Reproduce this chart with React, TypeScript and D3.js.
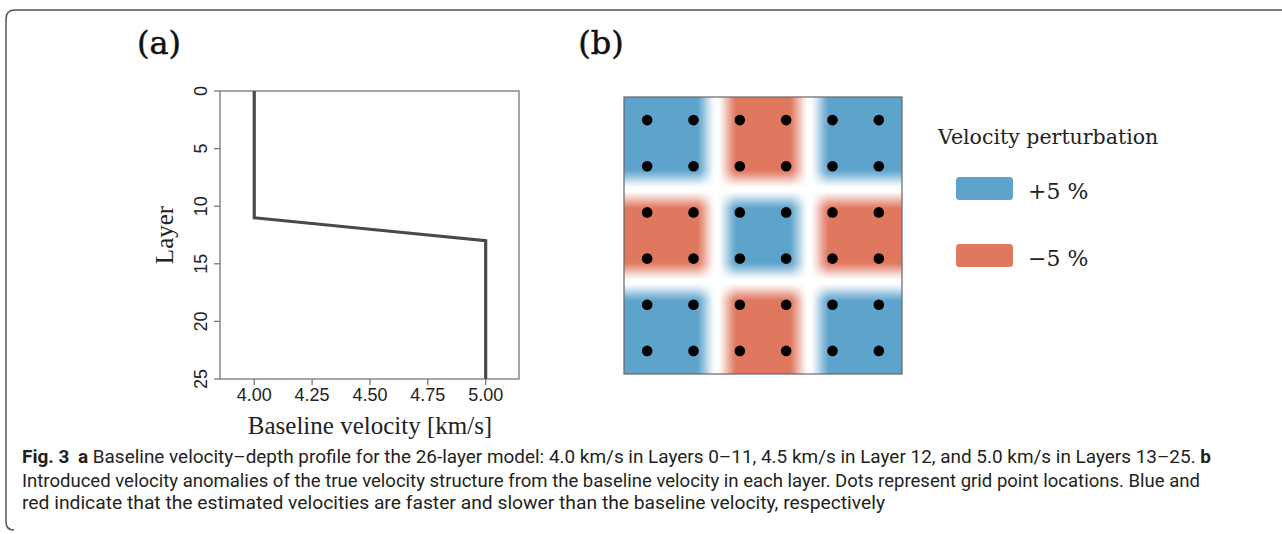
import React, { useEffect, useState } from "react";
import * as d3 from "d3";

const W = 1282;
const H = 534;

// Panel (a): baseline velocity–depth profile
const profileLayers = [0, 11, 12, 13, 25];
const profileVelocity = [4.0, 4.0, 4.5, 5.0, 5.0];
const velocityTicks = [4.0, 4.25, 4.5, 4.75, 5.0];
const layerTicks = [0, 5, 10, 15, 20, 25];

// Panel (b): checkerboard velocity anomaly (%), blocks listed top row first
const blockAnomaly = [
  [5, -5, 5],
  [-5, 5, -5],
  [5, -5, 5],
];
const blockEdges = [2, 4]; // interior block boundaries, grid units
const gridPoints = [0.5, 1.5, 2.5, 3.5, 4.5, 5.5];
const legendLabels = ["+5 %", "\u22125 %"];
const legendValues = [5, -5];

const BLUE = "#5ea3cc";
const RED = "#e0775f";

// Geometry
const A = { left: 220, right: 519, top: 91, bottom: 379 };
const B = { left: 624, right: 902, top: 97, bottom: 374 };

const xA = d3.scaleLinear().domain([3.852, 5.144]).range([A.left, A.right]);
const yA = d3.scaleLinear().domain([0, 25]).range([A.top, A.bottom]);
const xB = d3.scaleLinear().domain([0, 6]).range([B.left, B.right]);
const yB = d3.scaleLinear().domain([0, 6]).range([B.top, B.bottom]);
const colorB = d3
  .scaleLinear<string>()
  .domain([-5, 0, 5])
  .range([RED, "#ffffff", BLUE])
  .interpolate(d3.interpolateRgb)
  .clamp(true);

// taper of the anomaly towards each interior block boundary
function edgeWeight(u: number) {
  const d = Math.min(...blockEdges.map((b) => Math.abs(u - b)));
  const t = Math.max(0, Math.min(1, (d - 0.04) / (0.42 - 0.04)));
  return t * t * (3 - 2 * t) * 0.35 + t * 0.65;
}
function anomalyAt(u: number, v: number) {
  const c = Math.max(0, Math.min(2, Math.floor(u / 2)));
  const r = Math.max(0, Math.min(2, Math.floor(v / 2)));
  return blockAnomaly[r][c] * edgeWeight(u) * edgeWeight(v);
}

function useAnomalyImage() {
  const [href, setHref] = useState<string>("");
  useEffect(() => {
    const w = Math.round(B.right - B.left);
    const h = Math.round(B.bottom - B.top);
    const canvas = document.createElement("canvas");
    canvas.width = w;
    canvas.height = h;
    const ctx = canvas.getContext("2d");
    if (!ctx) return;
    const img = ctx.createImageData(w, h);
    for (let j = 0; j < h; j++) {
      const v = yB.invert(B.top + j + 0.5);
      for (let i = 0; i < w; i++) {
        const u = xB.invert(B.left + i + 0.5);
        const c = d3.rgb(colorB(anomalyAt(u, v)));
        const k = (j * w + i) * 4;
        img.data[k] = c.r;
        img.data[k + 1] = c.g;
        img.data[k + 2] = c.b;
        img.data[k + 3] = 255;
      }
    }
    ctx.putImageData(img, 0, 0);
    setHref(canvas.toDataURL());
  }, []);
  return href;
}

const serif = "'Liberation Serif', 'Times New Roman', serif";
const serifWide = "'DejaVu Serif', serif";
const sans = "'Liberation Sans', Arial, sans-serif";
const capFont = "Roboto, 'Noto Sans', sans-serif";

export default function App() {
  const href = useAnomalyImage();
  const line = d3
    .line<number>()
    .x((_, i) => xA(profileVelocity[i]))
    .y((d) => yA(d));

  return (
    <svg
      width={W}
      height={H}
      viewBox={`0 0 ${W} ${H}`}
      style={{ position: "absolute", left: 0, top: 0, background: "#fff" }}
    >
      {/* figure frame */}
      <path
        d={`M 14 530 Q 6 530 6 522 L 6 19 Q 6 10 15 10 L ${W} 10`}
        fill="none"
        stroke="#555"
        strokeWidth={1.5}
      />

      {/* ---------- panel (a) ---------- */}
      <text x={159} y={54} fontFamily={serifWide} fontSize={32} textAnchor="middle" fill="#111" stroke="#111" strokeWidth={0.5}>
        (a)
      </text>
      <rect
        x={A.left}
        y={A.top}
        width={A.right - A.left}
        height={A.bottom - A.top}
        fill="none"
        stroke="#777"
        strokeWidth={1.3}
      />
      {velocityTicks.map((t) => (
        <g key={`xt${t}`}>
          <line x1={xA(t)} x2={xA(t)} y1={A.bottom} y2={A.bottom + 6} stroke="#777" strokeWidth={1.3} />
          <text x={xA(t)} y={401} textAnchor="middle" fontFamily={sans} fontSize={18} fill="#222">
            {d3.format(".2f")(t)}
          </text>
        </g>
      ))}
      {layerTicks.map((t) => (
        <g key={`yt${t}`}>
          <line x1={A.left - 6} x2={A.left} y1={yA(t)} y2={yA(t)} stroke="#777" strokeWidth={1.3} />
          <text
            transform={`translate(207,${yA(t)}) rotate(-90)`}
            textAnchor="middle"
            fontFamily={sans}
            fontSize={18}
            fill="#222"
          >
            {t}
          </text>
        </g>
      ))}
      <path
        d={line(profileLayers) || ""}
        fill="none"
        stroke="#4a4a4a"
        strokeWidth={3.2}
        strokeLinejoin="miter"
      />
      <text
        transform={`translate(173,235) rotate(-90)`}
        textAnchor="middle"
        fontFamily={serif}
        fontSize={25}
        fill="#222"
      >
        Layer
      </text>
      <text x={370} y={434} textAnchor="middle" fontFamily={serif} fontSize={25} fill="#222">
        Baseline velocity [km/s]
      </text>

      {/* ---------- panel (b) ---------- */}
      <text x={601} y={54} fontFamily={serifWide} fontSize={32} textAnchor="middle" fill="#111" stroke="#111" strokeWidth={0.5}>
        (b)
      </text>
      {href && (
        <image
          href={href}
          x={B.left}
          y={B.top}
          width={Math.round(B.right - B.left)}
          height={Math.round(B.bottom - B.top)}
          preserveAspectRatio="none"
        />
      )}
      <rect
        x={B.left}
        y={B.top}
        width={B.right - B.left}
        height={B.bottom - B.top}
        fill="none"
        stroke="#666"
        strokeWidth={1.2}
      />
      {gridPoints.map((gy) =>
        gridPoints.map((gx) => (
          <circle key={`p${gx}-${gy}`} cx={xB(gx)} cy={yB(gy)} r={5.3} fill="#000" />
        ))
      )}

      {/* legend */}
      <text x={938} y={144} fontFamily={serifWide} fontSize={20.5} fill="#222">
        Velocity perturbation
      </text>
      {legendValues.map((v, i) => (
        <g key={`lg${i}`} transform={`translate(0,${i * 67})`}>
          <rect x={956} y={177} width={57} height={23} rx={3.5} fill={colorB(v)} />
          <text x={1028} y={199} fontFamily={serifWide} fontSize={22} fill="#222">
            {legendLabels[i]}
          </text>
        </g>
      ))}

      {/* caption */}
      <g fontFamily={capFont} fontSize={17.5} fill="#231f20">
        <text x={22} y={463} textLength={1189} lengthAdjust="spacingAndGlyphs">
          <tspan fontWeight={700}>Fig. 3</tspan>
          <tspan dx={8} fontWeight={700}>a</tspan>
          <tspan>
            {" "}Baseline velocity–depth profile for the 26-layer model: 4.0 km/s in Layers 0–11, 4.5 km/s in Layer 12, and 5.0 km/s in Layers 13–25.{" "}
          </tspan>
          <tspan fontWeight={700}>b</tspan>
        </text>
        <text x={22} y={486.5} textLength={1178} lengthAdjust="spacingAndGlyphs">
          Introduced velocity anomalies of the true velocity structure from the baseline velocity in each layer. Dots represent grid point locations. Blue and
        </text>
        <text x={22} y={509} textLength={863} lengthAdjust="spacingAndGlyphs">
          red indicate that the estimated velocities are faster and slower than the baseline velocity, respectively
        </text>
      </g>
    </svg>
  );
}
